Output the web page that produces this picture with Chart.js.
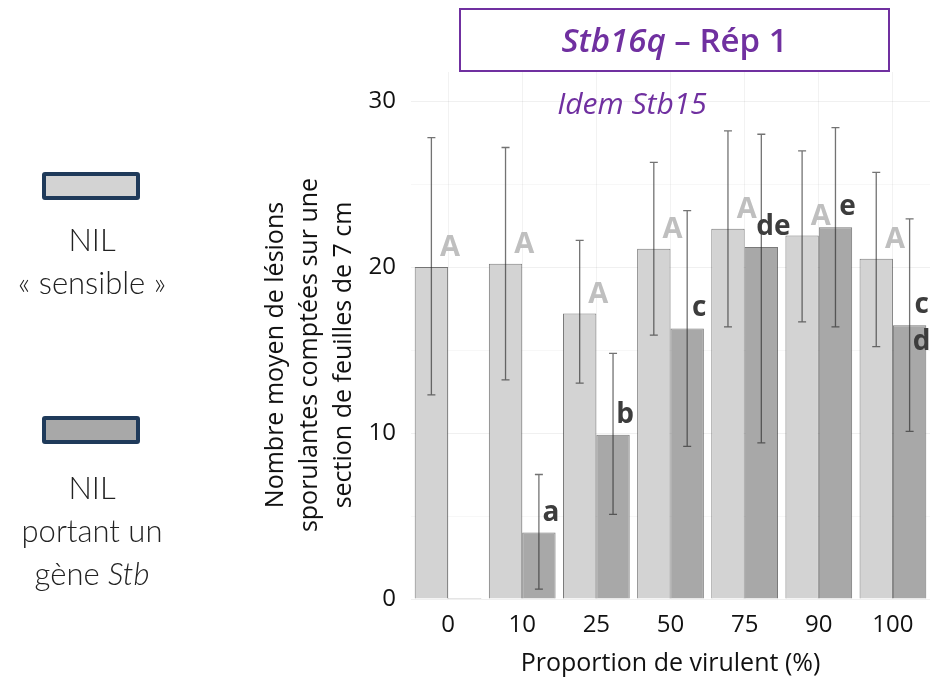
<!DOCTYPE html>
<html lang="fr">
<head>
<meta charset="UTF-8">
<title>Stb16q – Rép 1</title>
<script src="https://cdn.jsdelivr.net/npm/chart.js"></script>
<style>
* { margin: 0; padding: 0; box-sizing: border-box; }
body { background: #fff; width: 931px; height: 684px; overflow: hidden; font-family: 'Open Sans', sans-serif; }
.wrap { position: relative; width: 931px; height: 684px; }
#chart { position: absolute; left: 0; top: 0; }
.title-box {
    position: absolute; left: 459px; top: 8px; width: 431px; height: 64px;
    border: 2px solid #7030a0; color: #7030a0;
    font-size: 33px; font-weight: 600; text-align: center; line-height: 60px;
}
.subtitle {
    position: absolute; left: 482px; top: 84px; width: 300px; text-align: center;
    color: #7030a0; font-style: italic; font-size: 30px; line-height: 38px;
}
.y-title {
    position: absolute; left: 307px; top: 355px; width: 460px;
    transform: translate(-50%, -50%) rotate(-90deg);
    text-align: center; font-size: 25px; line-height: 34px; color: #111;
}
.legend-box {
    position: absolute; left: 42px; width: 98px; height: 28px;
    border: 4px solid #1f3a5a; border-radius: 3px;
}
.legend-text {
    position: absolute; left: 0; width: 184px; text-align: center;
    font-family: 'Lato', sans-serif; font-weight: 300; font-size: 31px; line-height: 43px; color: #222;
}
</style>
</head>
<body>
<div class="wrap">
    <canvas id="chart" width="931" height="684"></canvas>
    <div class="title-box"><i>Stb16q</i> – Rép 1</div>
    <div class="subtitle">Idem Stb15</div>
    <div class="y-title">Nombre moyen de lésions<br>sporulantes comptées sur une<br>section de feuilles de 7 cm</div>
    <div class="legend-box" style="top:172px; background:#d3d3d3;"></div>
    <div class="legend-text" style="top:218px;">NIL<br>« sensible »</div>
    <div class="legend-box" style="top:416px; background:#a8a8a8;"></div>
    <div class="legend-text" style="top:466px;">NIL<br>portant un<br>gène <i>Stb</i></div>
</div>
<script>
// proportion of virulent strain (%)
const categories = ['0', '10', '25', '50', '75', '90', '100'];

// NIL "sensible"
const sensible = [20.0, 20.2, 17.2, 21.1, 22.3, 21.9, 20.5];
const sensibleLow = [12.3, 13.2, 13.0, 15.9, 16.4, 16.7, 15.2];
const sensibleHigh = [27.8, 27.2, 21.6, 26.3, 28.2, 27.0, 25.7];
const sensibleLetters = ['A', 'A', 'A', 'A', 'A', 'A', 'A'];

// NIL carrying an Stb gene
const stb = [0, 4.0, 9.9, 16.3, 21.2, 22.4, 16.5];
const stbLow = [null, 0.6, 5.1, 9.2, 9.4, 16.4, 10.1];
const stbHigh = [null, 7.5, 14.8, 23.4, 28.0, 28.4, 22.9];
const stbLetters = ['', 'a', 'b', 'c', 'de', 'e', 'c\nd'];

const yTicks = [0, 10, 20, 30];

const FONT = "'Open Sans', sans-serif";

// error bars + significance letters
const annotations = {
    id: 'annotations',
    afterDatasetsDraw(chart) {
        const ctx = chart.ctx;
        const y = chart.scales.y;
        const sets = [
            { low: sensibleLow, high: sensibleHigh },
            { low: stbLow, high: stbHigh }
        ];
        ctx.save();
        ctx.strokeStyle = 'rgba(40, 40, 40, 0.65)';
        ctx.lineWidth = 1.3;
        sets.forEach((s, di) => {
            chart.getDatasetMeta(di).data.forEach((bar, i) => {
                if (s.low[i] == null) return;
                const top = y.getPixelForValue(s.high[i]);
                const bot = y.getPixelForValue(s.low[i]);
                ctx.beginPath();
                ctx.moveTo(bar.x, top); ctx.lineTo(bar.x, bot);
                ctx.moveTo(bar.x - 4, top); ctx.lineTo(bar.x + 4, top);
                ctx.moveTo(bar.x - 4, bot); ctx.lineTo(bar.x + 4, bot);
                ctx.stroke();
            });
        });

        ctx.textAlign = 'center';
        ctx.textBaseline = 'middle';
        ctx.font = 'bold 29px ' + FONT;
        ctx.fillStyle = '#bfbfbf';
        chart.getDatasetMeta(0).data.forEach((bar, i) => {
            ctx.fillText(sensibleLetters[i], bar.x + bar.width / 2 + 2, y.getPixelForValue(sensible[i]) - 19);
        });
        ctx.font = 'bold 28px ' + FONT;
        ctx.fillStyle = '#3d3d3d';
        chart.getDatasetMeta(1).data.forEach((bar, i) => {
            const lines = stbLetters[i].split('\n');
            lines.forEach((t, k) => {
                ctx.fillText(t, bar.x + 12, y.getPixelForValue(stb[i]) - 20 + k * 37);
            });
        });
        ctx.restore();
    }
};

new Chart(document.getElementById('chart'), {
    type: 'bar',
    data: {
        labels: categories,
        datasets: [
            {
                label: 'NIL « sensible »',
                data: sensible,
                backgroundColor: '#d3d3d3',
                borderColor: 'rgba(50, 50, 50, 0.65)',
                borderWidth: 1
            },
            {
                label: 'NIL portant un gène Stb',
                data: stb,
                backgroundColor: '#a8a8a8',
                borderColor: 'rgba(50, 50, 50, 0.65)',
                borderWidth: 1,
                minBarLength: 1
            }
        ]
    },
    options: {
        responsive: false,
        animation: false,
        categoryPercentage: 0.9,
        barPercentage: 1.0,
        layout: { padding: { left: 250, top: 72, right: 1, bottom: 0 } },
        plugins: { legend: { display: false }, tooltip: { enabled: false } },
        scales: {
            x: {
                grid: { offset: false, color: 'rgba(0,0,0,0.05)', drawTicks: false },
                border: { display: false },
                ticks: { padding: 12, color: '#111', font: { family: FONT, size: 24 } },
                title: {
                    display: true, text: 'Proportion de virulent (%)', color: '#111',
                    font: { family: FONT, size: 25 }, padding: { top: 0, bottom: 5 }
                },
                afterFit: s => { s.height = 85; }
            },
            y: {
                min: 0,
                max: 31.75,
                grid: {
                    drawTicks: false,
                    color: c => yTicks.includes(c.tick.value) ? 'rgba(0,0,0,0.06)' : 'rgba(0,0,0,0.03)'
                },
                border: { display: false },
                ticks: {
                    stepSize: 5, padding: 15, color: '#111',
                    font: { family: FONT, size: 24 },
                    callback: v => yTicks.includes(v) ? v : ''
                },
                afterBuildTicks: s => { s.ticks = s.ticks.filter(t => t.value % 5 === 0); },
                afterFit: s => { s.width = 161; }
            }
        }
    },
    plugins: [annotations]
});
</script>
</body>
</html>
